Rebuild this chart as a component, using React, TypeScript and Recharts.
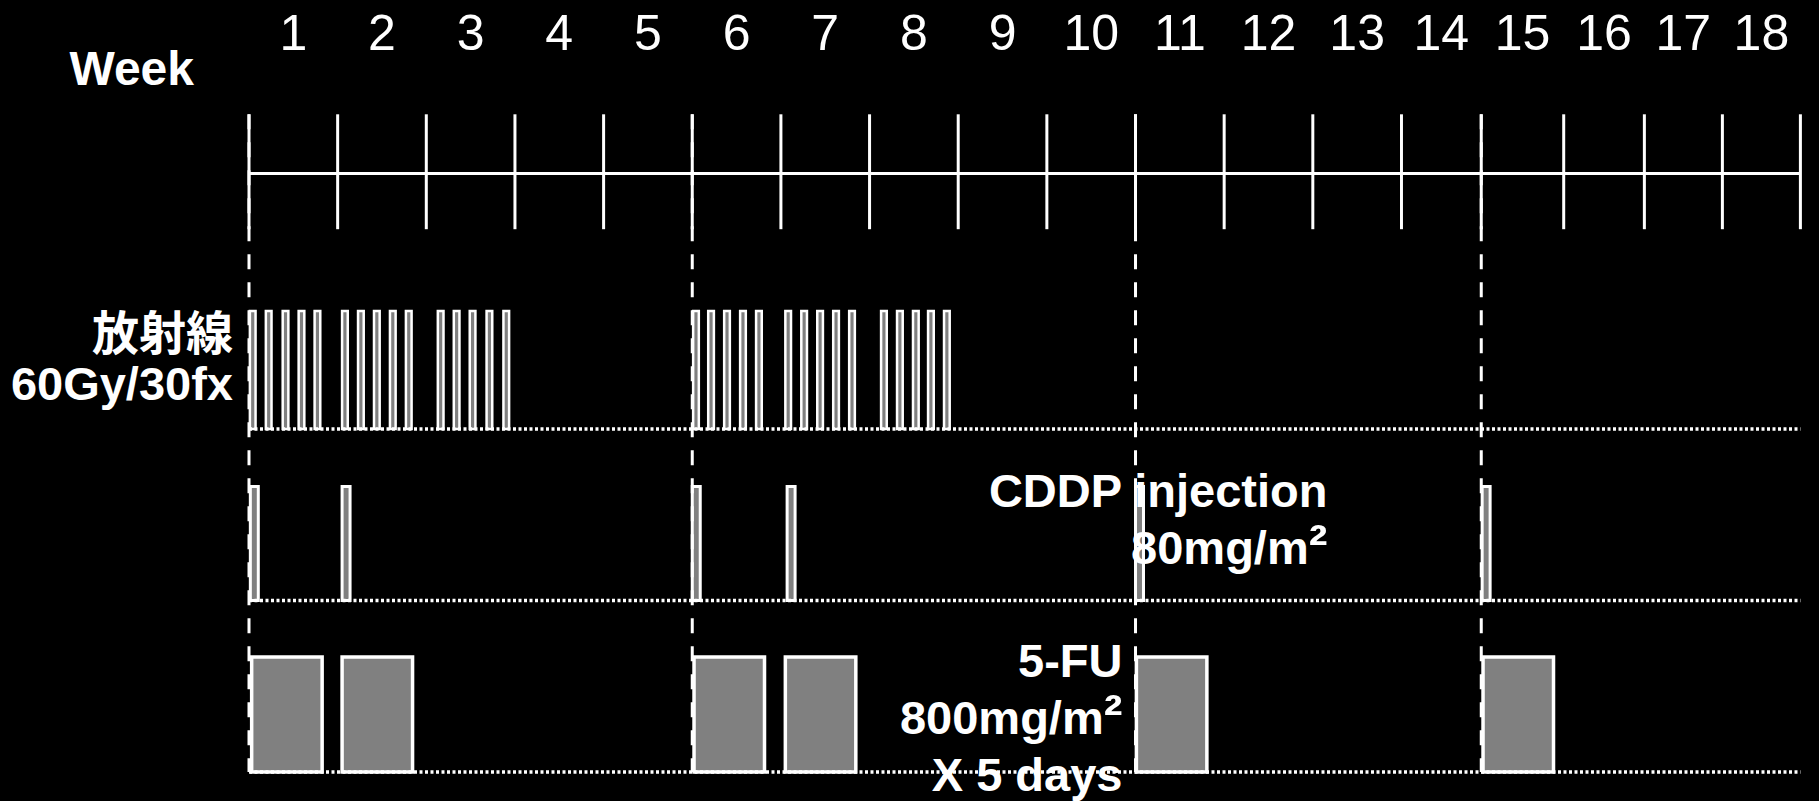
import {
  ComposedChart,
  XAxis,
  YAxis,
  ReferenceArea,
  ReferenceLine,
  ReferenceDot,
} from "recharts";

// Chemoradiotherapy schedule: weeks on top, RT / CDDP / 5-FU rows below.
// x is in weeks (as drawn), y in row lanes (0 = 5-FU baseline).

const weekLabels = ["1", "2", "3", "4", "5", "6", "7", "8", "9", "10", "11", "12", "13", "14", "15", "16", "17", "18"];
// week boundaries as drawn in the slide (last weeks are drawn narrower)
const weekEdges = [0, 1, 2, 3, 4, 5, 6, 7, 8, 9, 10, 11, 12, 13, 13.9, 14.83, 15.74, 16.62, 17.5];
const cycleStartWeeks = [1, 6, 11, 15];

// 60Gy / 30 fractions, split course
const rtFractions = [
  0.01, 0.19, 0.38, 0.56, 0.74,
  1.05, 1.23, 1.41, 1.59, 1.77,
  2.13, 2.31, 2.49, 2.68, 2.87,
  5.01, 5.18, 5.36, 5.54, 5.72,
  6.05, 6.23, 6.41, 6.59, 6.77,
  7.13, 7.31, 7.49, 7.66, 7.84,
];
const cddpDoses = [0.015, 1.05, 5.0, 6.07, 10.0, 13.91];
const fuCourses = [0.03, 1.05, 5.02, 6.05, 10.01, 13.92];

const weekTitle = ["Week"];
const rtLabel = ["放射線", "60Gy/30fx"];
const cddpLabel = ["CDDP injection", "80mg/m²"];
const fuLabel = ["5-FU", "800mg/m²", "X 5 days"];

const weekMids = weekLabels.map((_, i) => (weekEdges[i] + weekEdges[i + 1]) / 2);
const axisData = weekLabels.map((label, i) => ({ mid: weekMids[i], label }));

const X_MAX = 17.5;
const Y_MAX = 4.1516;
const AXIS_Y = 3.49;
const TICK_TOP = 3.835;
const TICK_BOTTOM = 3.165;

const RT_BASE = 2;
const RT_H = 0.688;
const RT_W = 0.064;
const CDDP_BASE = 1;
const CDDP_H = 0.665;
const CDDP_W = 0.09;
const FU_BASE = 0;
const FU_H = 0.67;
const FU_W = 0.795;

const FONT = "'Liberation Sans', Arial, 'Noto Sans CJK JP', sans-serif";
const WHITE = "#ffffff";
const GREY = "#808080";

type NoteProps = {
  cx?: number;
  cy?: number;
  lines: string[];
  dx: number;
  dy: number;
  lh: number;
  size: number;
  anchor: "start" | "middle" | "end";
};

// one line of text; a trailing "²" is drawn a bit larger, like the slide
function renderLine(t: string, size: number) {
  const k = t.indexOf("²");
  if (k < 0) return t;
  return (
    <>
      {t.slice(0, k)}
      <tspan fontSize={size * 1.2}>²</tspan>
      {t.slice(k + 1)}
    </>
  );
}

function Note({ cx = 0, cy = 0, lines, dx, dy, lh, size, anchor }: NoteProps) {
  return (
    <text
      fill={WHITE}
      fontFamily={FONT}
      fontWeight="bold"
      fontSize={size}
      textAnchor={anchor}
    >
      {lines.map((t, i) => (
        <tspan key={i} x={cx + dx} y={cy + dy + i * lh}>
          {renderLine(t, size)}
        </tspan>
      ))}
    </text>
  );
}

export default function App() {
  const c3 = weekEdges[cycleStartWeeks[2] - 1];
  return (
    <div
      style={{
        position: "absolute",
        left: 0,
        top: 0,
        width: 1819,
        height: 801,
        background: "#000",
      }}
    >
      <ComposedChart
        width={1819}
        height={801}
        data={axisData}
        margin={{ top: 0, right: 18.6, bottom: 29, left: 249 }}
      >
        <XAxis
          dataKey="mid"
          type="number"
          orientation="top"
          domain={[0, X_MAX]}
          ticks={weekMids}
          interval={0}
          height={60}
          axisLine={false}
          tickLine={false}
          tickSize={0}
          tickMargin={10}
          tickFormatter={(v: number) => weekLabels[weekMids.indexOf(v)] ?? ""}
          tick={{ fill: WHITE, fontSize: 50, fontFamily: FONT }}
          allowDataOverflow
        />
        <YAxis hide type="number" domain={[0, Y_MAX]} allowDataOverflow />

        {/* text notes, drawn first so the bars sit on top */}
        <ReferenceDot
          x={0}
          y={4}
          r={0}
          ifOverflow="visible"
          shape={(p: any) => (
            <Note cx={p.cx} cy={p.cy} lines={weekTitle} dx={-55} dy={-1} lh={0} size={48} anchor="end" />
          )}
        />
        <ReferenceDot
          x={0}
          y={RT_BASE}
          r={0}
          ifOverflow="visible"
          shape={(p: any) => (
            <Note cx={p.cx} cy={p.cy} lines={rtLabel} dx={-16} dy={-79} lh={50} size={47} anchor="end" />
          )}
        />
        <ReferenceDot
          x={c3}
          y={CDDP_BASE}
          r={0}
          ifOverflow="visible"
          shape={(p: any) => (
            <Note cx={p.cx} cy={p.cy} lines={cddpLabel} dx={192} dy={-93} lh={57} size={47} anchor="end" />
          )}
        />
        <ReferenceDot
          x={c3}
          y={FU_BASE}
          r={0}
          ifOverflow="visible"
          shape={(p: any) => (
            <Note cx={p.cx} cy={p.cy} lines={fuLabel} dx={-13} dy={-95} lh={57} size={47} anchor="end" />
          )}
        />

        {/* timeline */}
        <ReferenceLine
          segment={[{ x: 0, y: AXIS_Y }, { x: X_MAX, y: AXIS_Y }]}
          stroke={WHITE}
          strokeWidth={3}
          ifOverflow="visible"
        />
        {weekEdges.map((e, i) => (
          <ReferenceLine
            key={`t${i}`}
            segment={[{ x: e, y: TICK_TOP }, { x: e, y: TICK_BOTTOM }]}
            stroke={WHITE}
            strokeWidth={3}
            ifOverflow="visible"
          />
        ))}
        {cycleStartWeeks.map((w) => (
          <ReferenceLine
            key={`c${w}`}
            segment={[{ x: weekEdges[w - 1], y: TICK_TOP }, { x: weekEdges[w - 1], y: FU_BASE }]}
            stroke={WHITE}
            strokeWidth={3}
            strokeDasharray="15 13"
            ifOverflow="visible"
          />
        ))}

        {/* dotted row baselines */}
        {[RT_BASE, CDDP_BASE, FU_BASE].map((b) => (
          <ReferenceLine
            key={`b${b}`}
            y={b}
            stroke={WHITE}
            strokeWidth={3.5}
            strokeDasharray="3 2.5"
            ifOverflow="visible"
          />
        ))}

        {rtFractions.map((s, i) => (
          <ReferenceArea
            key={`rt${i}`}
            x1={s}
            x2={s + RT_W}
            y1={RT_BASE}
            y2={RT_BASE + RT_H}
            fill={GREY}
            fillOpacity={1}
            stroke={WHITE}
            strokeWidth={2.5}
            ifOverflow="visible"
          />
        ))}
        {cddpDoses.map((s, i) => (
          <ReferenceArea
            key={`cd${i}`}
            x1={s}
            x2={s + CDDP_W}
            y1={CDDP_BASE}
            y2={CDDP_BASE + CDDP_H}
            fill={GREY}
            fillOpacity={1}
            stroke={WHITE}
            strokeWidth={3}
            ifOverflow="visible"
          />
        ))}
        {fuCourses.map((s, i) => (
          <ReferenceArea
            key={`fu${i}`}
            x1={s}
            x2={s + FU_W}
            y1={FU_BASE}
            y2={FU_BASE + FU_H}
            fill={GREY}
            fillOpacity={1}
            stroke={WHITE}
            strokeWidth={3.5}
            ifOverflow="visible"
          />
        ))}
      </ComposedChart>
    </div>
  );
}
